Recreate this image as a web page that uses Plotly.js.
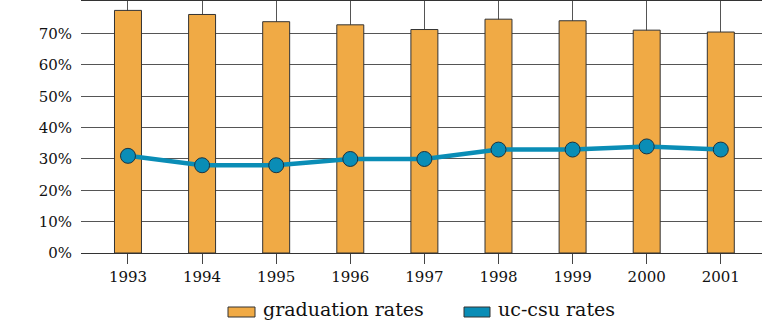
<!DOCTYPE html>
<html><head><meta charset="utf-8">
<script src="https://cdn.plot.ly/plotly-3.0.1.min.js"></script>
<style>html,body{margin:0;padding:0;background:#fff}</style>
</head><body>
<div id="chart" style="width:762px;height:322px"></div>
<script>
var years = ["1993","1994","1995","1996","1997","1998","1999","2000","2001"];
var graduationRates = [0.774, 0.761, 0.738, 0.728, 0.713, 0.746, 0.741, 0.711, 0.705];
var ucCsuRates = [0.31, 0.28, 0.28, 0.30, 0.30, 0.33, 0.33, 0.34, 0.33];
var yTicks = [0, 0.1, 0.2, 0.3, 0.4, 0.5, 0.6, 0.7];
var yTickText = ["0%","10%","20%","30%","40%","50%","60%","70%"];
var legendNames = ["graduation rates", "uc-csu rates"];

var orange = "#F0AA45", blue = "#0A8DB6";
var fontFam = "DejaVu Serif, Liberation Serif, serif";

var traces = [
  {type:"bar", name:legendNames[0], x:years, y:graduationRates, width:0.364,
   marker:{color:orange, line:{color:"#333", width:1}}, hoverinfo:"skip"},
  {type:"scatter", mode:"lines+markers", name:legendNames[1], x:years, y:ucCsuRates,
   line:{color:blue, width:4.5},
   marker:{size:15, color:blue, line:{color:"#1c3340", width:1}}}
];

// manual legend (wide rectangular swatches like the reference)
var W = 681, H = 252;
function px(x){ return (x - 81) / W; }
function py(y){ return (253 - y) / H; }
var shapes = [
  {type:"rect", xref:"paper", yref:"paper", x0:px(228), x1:px(255), y0:py(307), y1:py(317),
   fillcolor:orange, line:{color:"#333", width:1}},
  {type:"rect", xref:"paper", yref:"paper", x0:px(464), x1:px(490), y0:py(307), y1:py(317),
   fillcolor:blue, line:{color:"#333", width:1}}
];
var annotations = [
  {xref:"paper", yref:"paper", x:px(261), y:py(309), xanchor:"left", yanchor:"middle",
   text:legendNames[0], showarrow:false, font:{size:19, family:fontFam, color:"#111"}},
  {xref:"paper", yref:"paper", x:px(496), y:py(309), xanchor:"left", yanchor:"middle",
   text:legendNames[1], showarrow:false, font:{size:19, family:fontFam, color:"#111"}}
];

var layout = {
  width:762, height:322,
  margin:{l:81, r:0, t:1, b:69, autoexpand:false},
  barmode:"overlay",
  paper_bgcolor:"#fff", plot_bgcolor:"#fff",
  font:{family:fontFam, color:"#111", size:15},
  showlegend:false,
  shapes:shapes, annotations:annotations,
  xaxis:{type:"category", range:[-0.634, 8.556], showgrid:true, gridcolor:"#555", gridwidth:1,
         showline:true, mirror:true, linecolor:"#333", linewidth:1,
         ticks:"outside", ticklen:10, tickcolor:"#444", tickfont:{size:15}, zeroline:false},
  yaxis:{range:[0, 0.804], tickvals:yTicks, ticktext:yTickText, showgrid:true,
         gridcolor:"#555", gridwidth:1, showline:false, zeroline:false, ticks:"",
         ticklabelstandoff:8, tickfont:{size:15}}
};
Plotly.newPlot("chart", traces, layout, {displayModeBar:false, staticPlot:true});
</script>
</body></html>
